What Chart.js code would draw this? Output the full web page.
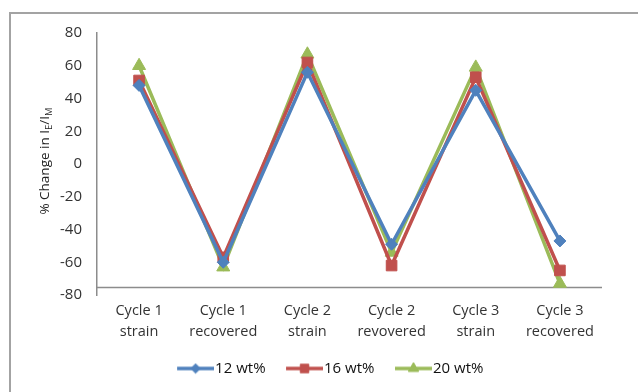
<!DOCTYPE html>
<html>
<head>
<meta charset="utf-8">
<script src="https://cdn.jsdelivr.net/npm/chart.js@4/dist/chart.umd.min.js"></script>
<style>
  html, body { margin: 0; padding: 0; background: #ffffff; }
  #wrap { width: 638px; height: 392px; position: relative; }
</style>
</head>
<body>
<div id="wrap"><canvas id="chart" width="638" height="392"></canvas></div>
<script>
// Cycle steps along the horizontal axis (two-line labels)
const categories = [
  ["Cycle 1", "strain"],
  ["Cycle 1", "recovered"],
  ["Cycle 2", "strain"],
  ["Cycle 2", "revovered"],
  ["Cycle 3", "strain"],
  ["Cycle 3", "recovered"]
];

// % change in I_E/I_M for each loading
const seriesNames = ["12 wt%", "16 wt%", "20 wt%"];
const wt12 = [48, -60, 56, -49, 45, -47];
const wt16 = [51, -57, 62, -62, 53, -65];
const wt20 = [60, -63, 67, -54, 59, -73];

// Value axis
const yMin = -80;
const yMax = 80;
const yStep = 20;
const xAxisCrossing = -75;

const FONT = "'Open Sans', 'DejaVu Sans', sans-serif";
const COLORS = ["#4F81BD", "#C0504D", "#9BBB59"];
const STYLES = ["rectRot", "rect", "triangle"];
const RADII = [6, 7.5, 7.5];

// Legend icons: blank lead-in for item spacing, then a short line with the series marker
const ICON_W = 54;
const ICON_LINE = 37;
function legendIcon(color, style, radius) {
  const cv = document.createElement("canvas");
  cv.width = ICON_W; cv.height = 18;
  const ctx = cv.getContext("2d");
  const x0 = ICON_W - ICON_LINE;
  ctx.strokeStyle = color;
  ctx.lineWidth = 3.5;
  ctx.beginPath();
  ctx.moveTo(x0, 9); ctx.lineTo(ICON_W, 9);
  ctx.stroke();
  ctx.fillStyle = color;
  ctx.lineWidth = 1;
  Chart.helpers.drawPoint(ctx, { pointStyle: style, radius: radius * 0.8, borderWidth: 1, rotation: 0 }, x0 + ICON_LINE / 2, 9);
  return cv;
}
const icons = COLORS.map((c, i) => legendIcon(c, STYLES[i], RADII[i]));

// Outer frame, horizontal axis line at its crossing value, and the y-axis title
const decorations = {
  id: "decorations",
  beforeDraw(chart) {
    const ctx = chart.ctx;
    ctx.save();
    ctx.strokeStyle = "#a3a3a3";
    ctx.lineWidth = 2;
    ctx.strokeRect(10, 13, 700, 500);
    ctx.restore();
  },
  beforeDatasetsDraw(chart) {
    const { ctx, chartArea, scales } = chart;
    const y = Math.round(scales.y.getPixelForValue(xAxisCrossing)) + 0.5;
    ctx.save();
    ctx.strokeStyle = "#8c8c8c";
    ctx.lineWidth = 1.5;
    ctx.beginPath();
    ctx.moveTo(chartArea.left, y);
    ctx.lineTo(chartArea.right, y);
    ctx.stroke();
    ctx.restore();
  },
  afterDraw(chart) {
    const { ctx, chartArea } = chart;
    const parts = [
      { t: "% Change in I", size: 13.5, dy: 0 },
      { t: "E", size: 9.5, dy: 4 },
      { t: "/I", size: 13.5, dy: 0 },
      { t: "M", size: 9.5, dy: 4 }
    ];
    ctx.save();
    ctx.fillStyle = "#222222";
    ctx.textBaseline = "middle";
    ctx.textAlign = "left";
    let total = 0;
    parts.forEach(p => { ctx.font = p.size + "px " + FONT; p.w = ctx.measureText(p.t).width; total += p.w; });
    ctx.translate(45, (chartArea.top + chartArea.bottom) / 2 - 3);
    ctx.rotate(-Math.PI / 2);
    let x = -total / 2;
    parts.forEach(p => {
      ctx.font = p.size + "px " + FONT;
      ctx.fillText(p.t, x, p.dy);
      x += p.w;
    });
    ctx.restore();
  }
};

const allSeries = [wt12, wt16, wt20];

new Chart(document.getElementById("chart"), {
  type: "line",
  data: {
    labels: categories,
    datasets: allSeries.map((vals, i) => ({
      label: seriesNames[i],
      data: vals,
      borderColor: COLORS[i],
      backgroundColor: COLORS[i],
      borderWidth: 3.5,
      pointStyle: STYLES[i],
      pointRadius: RADII[i],
      pointHoverRadius: RADII[i],
      pointBorderWidth: 1,
      tension: 0,
      fill: false
    }))
  },
  options: {
    responsive: false,
    animation: false,
    layout: { padding: { top: 33, right: 36, bottom: 6, left: 48 } },
    plugins: {
      legend: {
        position: "bottom",
        labels: {
          usePointStyle: true,
          pointStyleWidth: 41,
          padding: 10,
          color: "#111111",
          font: { family: FONT, size: 15 },
          generateLabels(chart) {
            return Chart.defaults.plugins.legend.labels.generateLabels(chart)
              .map((l, i) => Object.assign(l, { pointStyle: icons[i] }));
          }
        }
      },
      tooltip: { enabled: false }
    },
    scales: {
      x: {
        type: "category",
        offset: true,
        grid: { display: false, drawTicks: false },
        border: { display: false },
        ticks: {
          color: "#333333",
          padding: 5,
          maxRotation: 0,
          autoSkip: false,
          font: { family: FONT, size: 14.5, lineHeight: 1.45 }
        },
        afterFit(scale) { scale.height = 56; }
      },
      y: {
        min: yMin,
        max: yMax,
        grid: { display: false, drawTicks: false },
        border: { display: true, color: "#8c8c8c", width: 1.5 },
        ticks: {
          stepSize: yStep,
          color: "#333333",
          padding: 15,
          font: { family: FONT, size: 15 }
        },
        afterFit(scale) { scale.width = 49; }
      }
    }
  },
  plugins: [decorations]
});
</script>
</body>
</html>
